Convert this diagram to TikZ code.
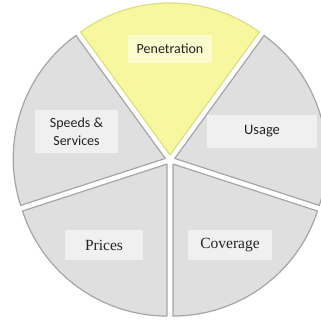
\documentclass[tikz,border=0pt]{standalone}
\usepackage{fontspec}
\usetikzlibrary{calc}
\newfontfamily\calib{Carlito}
\newfontfamily\camb{Liberation Serif}
\definecolor{sectgray}{RGB}{223,223,223}
\definecolor{sectedge}{RGB}{165,165,165}
\definecolor{boxgray}{RGB}{240,240,240}
\definecolor{sectyel}{RGB}{247,247,160}
\definecolor{yeledge}{RGB}{222,222,130}
\definecolor{boxyel}{RGB}{251,251,205}
\definecolor{txt}{RGB}{35,35,35}
\tikzset{
  graysect/.style={fill=sectgray, draw=sectedge, line width=1.2pt, line join=round},
  yelsect/.style={fill=sectyel, draw=yeledge, line width=1.2pt, line join=round},
  lblbox/.style={fill=boxgray, text=txt, inner sep=0pt, align=center},
  ylblbox/.style={fill=boxyel, text=txt, inner sep=0pt, align=center}
}
\begin{document}
\begin{tikzpicture}[x=1pt,y=1pt]
\useasboundingbox (0,0) rectangle (321,320);
\def\R{152}
% sectors: apex = center (170,160) + 5 along bisector
\foreach \b/\st in {162/graysect, 18/graysect, -54/graysect, -126/graysect}{
  \draw[\st] ($(170,160)+(\b:5)$) -- ++(\b-36:\R) arc[start angle=\b-36, end angle=\b+36, radius=\R] -- cycle;
}
\draw[yelsect] ($(170,160)+(90:5)$) -- ++(54:\R) arc[start angle=54, end angle=126, radius=\R] -- cycle;
% label boxes
\node[ylblbox, minimum width=84pt, minimum height=28pt, font=\calib\fontsize{14}{16}\selectfont] (pen) at (170,271) {Penetration};
\node[lblbox, minimum width=83pt, minimum height=43pt, font=\calib\fontsize{14}{18}\selectfont] (spd) at (76.5,188.5) {Speeds \&\\Services};
\node[lblbox, minimum width=110pt, minimum height=33pt, font=\calib\fontsize{14.5}{16}\selectfont] (use) at (262,188.5) {Usage};
\node[lblbox, minimum width=78pt, minimum height=30pt, font=\camb\fontsize{15.5}{17}\selectfont] (pri) at (104,75) {Prices};
\node[lblbox, minimum width=84pt, minimum height=30pt, font=\camb\fontsize{15.5}{17}\selectfont] (cov) at (230,75) {Coverage};
\end{tikzpicture}
\end{document}
